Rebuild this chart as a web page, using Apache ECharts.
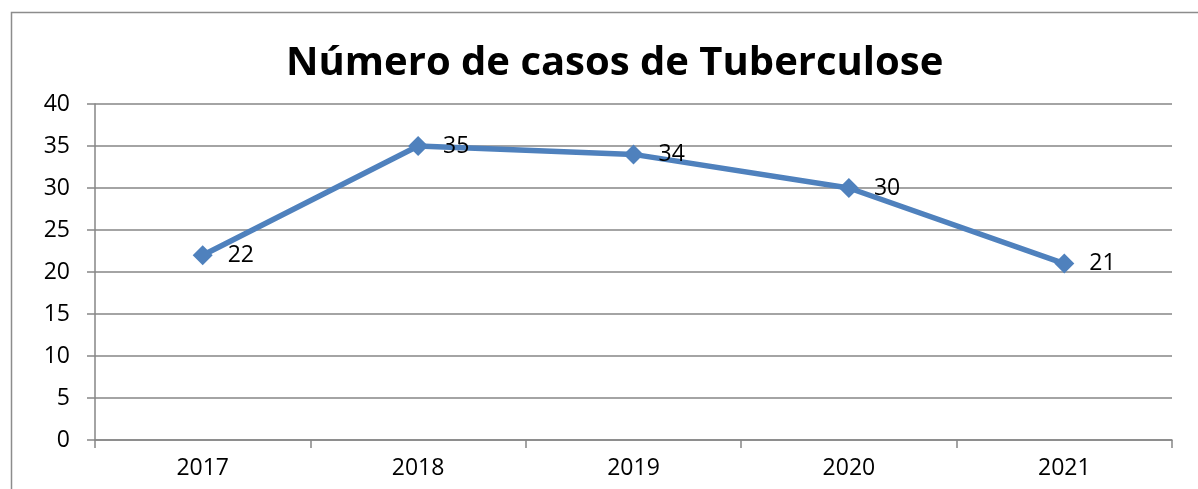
<!DOCTYPE html>
<html>
<head>
<meta charset="utf-8">
<script src="https://cdn.jsdelivr.net/npm/echarts@6/dist/echarts.min.js"></script>
<style>
html,body{margin:0;padding:0;background:#fff;}
#c{width:1198px;height:489px;}
</style>
</head>
<body>
<div id="c"></div>
<script>
const titleText = 'Número de casos de Tuberculose';
const categories = ['2017', '2018', '2019', '2020', '2021'];
const casos = [22, 35, 34, 30, 21];

const chart = echarts.init(document.getElementById('c'), null, {renderer: 'canvas'});
const axisColor = '#868686';
const font = 'Open Sans';
chart.setOption({
  animation: false,
  backgroundColor: '#fff',
  graphic: [{
    type: 'rect', left: 9, top: 10, silent: true,
    shape: {width: 1300, height: 600},
    style: {fill: 'none', stroke: '#8c8c8c', lineWidth: 1.5}
  }],
  title: {
    text: titleText, left: 281, top: 39,
    textStyle: {fontFamily: font, fontWeight: 'bold', fontSize: 40, color: '#000'}
  },
  grid: {left: 95, right: 26, top: 104, bottom: 49, containLabel: false},
  xAxis: {
    type: 'category', data: categories, boundaryGap: true,
    axisLine: {lineStyle: {color: axisColor, width: 1.5}},
    axisTick: {show: true, length: 8, lineStyle: {color: axisColor, width: 1.5}},
    axisLabel: {margin: 17, fontFamily: font, fontSize: 23, color: '#000'},
    splitLine: {show: false}
  },
  yAxis: {
    type: 'value', min: 0, max: 40, interval: 5,
    axisLine: {show: true, lineStyle: {color: axisColor, width: 1.5}},
    axisTick: {show: true, length: 8, lineStyle: {color: axisColor, width: 1.5}},
    axisLabel: {margin: 25, fontFamily: font, fontSize: 23, color: '#000'},
    splitLine: {show: true, lineStyle: {color: axisColor, width: 1.5}}
  },
  series: [{
    type: 'line', data: casos,
    lineStyle: {color: '#4F81BD', width: 5.5},
    itemStyle: {color: '#4F81BD'},
    symbol: 'diamond', symbolSize: 20,
    label: {show: true, position: 'right', distance: 15, fontFamily: font, fontSize: 23, color: '#000'}
  }]
});
</script>
</body>
</html>
